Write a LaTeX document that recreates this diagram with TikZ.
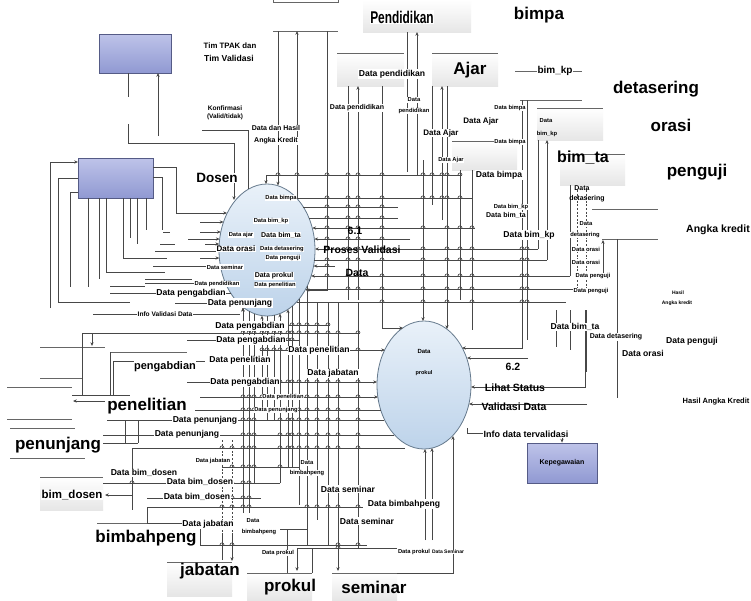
\documentclass[tikz,border=0pt]{standalone}
\usepackage{fontspec}
\setmainfont{Liberation Sans}
\usetikzlibrary{arrows.meta,shapes.geometric}
\definecolor{wire}{HTML}{474747}
\definecolor{entTop}{HTML}{BEC3E9}
\definecolor{entBot}{HTML}{9099D2}
\definecolor{entEdge}{HTML}{555B86}
\definecolor{procTop}{HTML}{E9F1F9}
\definecolor{procBot}{HTML}{BDD3EA}
\definecolor{procEdge}{HTML}{667A8D}
\definecolor{shelfGray}{HTML}{E6E6E6}
% small hop-over bump where a horizontal flow jumps a vertical one
\newcommand\hopmark[2]{\draw[ln] ({#1-2},#2) .. controls ({#1-2},{#2-2.8}) and ({#1+2},{#2-2.8}) .. ({#1+2},#2);}
\begin{document}
\begin{tikzpicture}[x=1pt,y=-1pt,
  ln/.style={draw=wire,line width=0.7pt},
  ar/.style={ln,-{Stealth[length=3.8pt,width=3.2pt]}},
  dsh/.style={ln,dash pattern=on 2pt off 1.6pt},
  rim/.style={draw=black!60,line width=0.9pt},
  shelf/.style={top color=white,bottom color=shelfGray,draw=none},
  tx/.style={inner sep=0.5pt,fill=white,align=center},
  t5/.style={tx,font=\bfseries\fontsize{5}{6}\selectfont},
  sm/.style={tx,font=\bfseries\fontsize{5.8}{6.6}\selectfont},
  s7/.style={tx,font=\bfseries\fontsize{7}{8}\selectfont},
  md/.style={tx,font=\bfseries\fontsize{8.6}{9.4}\selectfont},
  lg/.style={tx,font=\bfseries\fontsize{11}{12}\selectfont},
  bg/.style={tx,font=\bfseries\fontsize{17}{18}\selectfont},
  ttl/.style={inner sep=0pt,font=\bfseries\fontsize{10.5}{12}\selectfont},
  ent/.style={draw=entEdge,line width=0.8pt,top color=entTop,bottom color=entBot,inner sep=0pt},
  proc/.style={ellipse,draw=procEdge,line width=0.8pt,top color=procTop,bottom color=procBot,inner sep=0pt}
]
\useasboundingbox (0,0) rectangle (751,600);
\fill[white] (0,0) rectangle (751,600);

% ---------- data store bodies ----------
\fill[shelf] (363,0) rectangle (471,32);
\fill[shelf] (337,53) rectangle (404,86);
\fill[shelf] (432,53) rectangle (498,86);
\fill[shelf] (537,108) rectangle (603,140);
\fill[shelf] (452,141) rectangle (517,170);
\fill[shelf] (560,154) rectangle (625,185);
\fill[shelf] (40,477) rectangle (103,510);
\fill[shelf] (167,562) rectangle (232,596);
\fill[shelf] (247,573) rectangle (312,600);
\fill[shelf] (332,573) rectangle (397,600);

% ---------- data store rims ----------
\draw[rim] (273,-1) -- (273,2) -- (338,2) -- (338,-1);
\draw[rim] (273,31) -- (338,31);
\draw[rim] (337,53) -- (404,53);
\draw[rim] (432,53) -- (498,53);
\draw[rim] (515,71) -- (582,71);
\draw[rim] (520,100) -- (582,100);
\draw[rim] (537,108) -- (603,108);
\draw[rim] (452,141) -- (517,141);
\draw[rim] (560,154) -- (625,154);
\draw[rim] (592,209) -- (658,209);
\draw[rim] (602,239) -- (658,239);
\draw[rim] (40,347) -- (105,347);
\draw[rim] (110,352) -- (187,352);
\draw[rim] (40,378) -- (82,378);
\draw[rim] (7,387) -- (72,387);
\draw[rim] (7,419) -- (72,419);
\draw[rim] (10,428) -- (75,428);
\draw[rim] (10,458) -- (85,458);
\draw[rim] (40,477) -- (103,477);
\draw[rim] (97,523) -- (160,523);
\draw[rim] (167,562) -- (232,562);
\draw[rim] (247,573) -- (312,573);
\draw[rim] (332,573) -- (397,573);

% ---------- external entities and processes ----------
\node[ent,minimum width=72pt,minimum height=39pt] (tim) at (135,53.5) {};
\node[ent,minimum width=75pt,minimum height=40pt] (dosen) at (115.5,178) {};
\node[ent,minimum width=70pt,minimum height=40pt,font=\bfseries\fontsize{7}{8}\selectfont] (kep) at (562,463) {Kepegawaian};
\node[proc,minimum width=96pt,minimum height=132pt] (p1) at (267,250) {};
\node[proc,minimum width=94pt,minimum height=128pt] (p2) at (424,385) {};

% ---------- Tim TPAK / Dosen links ----------
\draw[ln] (128,73) -- (128,97);
\draw[ln] (128,124) -- (128,143) -- (234,143);
\draw[ar] (234,143) -- (234,200);
\draw[ar] (158,136) -- (158,73);
\draw[ln] (202,130) -- (248,130) -- (248,189);
\draw[ar] (50,308) -- (50,162) -- (78,162);
\draw[ar] (153,167) -- (176,167) -- (176,213) -- (227,213);
\draw[ln] (153,177) -- (162,177) -- (162,230);
\draw[ln] (78,178) -- (58,178) -- (58,302) -- (130,302);
\draw[ln] (78,192) -- (70,192) -- (70,287);
\draw[ln] (88,198) -- (88,287);
\draw[ln] (99,198) -- (99,279);
\draw[ln] (106,198) -- (106,272) -- (165,272);
\draw[ln] (123,198) -- (123,258) -- (167,258);
\draw[ln] (130,198) -- (130,238);
\draw[ln] (137,198) -- (137,244);
\draw[ln] (146,198) -- (146,230);
\draw[ln] (163,232) -- (170,232);
\draw[ln] (160,244) -- (175,244);
\draw[ln] (145,279) -- (192,279);
\draw[ln] (110,286) -- (145,286);
\draw[ln] (93,314) -- (240,314);
\draw[ar] (243,322) -- (243,308);

% flows entering 6.1 from the left
\foreach \yy/\xa in {222/200,232/200,239/188,244/205,258/200} {
  \pgfmathsetmacro\xe{267-48*sqrt(1-((\yy-250)/66)^2)}
  \draw[ar] (\xa,\yy) -- (\xe,\yy);
}
\foreach \yy/\xa in {251/155,266/153,283/145,293/110,303/175} {
  \pgfmathsetmacro\xe{267-48*sqrt(1-((\yy-250)/66)^2)}
  \draw[ln] (\xa,\yy) -- (\xe,\yy);
}

% ---------- flows between 6.1 and the upper stores ----------
\draw[ln] (266,175) -- (462,175);
\draw[ar] (266,175) -- (266,184);
\draw[ar] (278,31) -- (278,185.5);
\draw[ar] (297,198) -- (297,31);
\draw[ar] (327,31) -- (327,290) -- (305.5,290);
\draw[ln] (348,86) -- (348,300);
\draw[ar] (358,300) -- (358,86);
\draw[ar] (382,86) -- (382,328) -- (403,328);
\draw[ln] (407,32) -- (407,172);
\draw[ar] (417,175) -- (417,32);
\draw[ar] (423,160) -- (423,321);
\draw[ln] (432,86) -- (432,205);
\draw[ar] (442,220) -- (442,86);
\draw[ar] (447,86) -- (447,329);
\draw[ln] (460,170) -- (460,300);
\draw[ln] (472,170) -- (472,330);
\draw[ln] (297,198) -- (473,198);
\draw[ar] (522,100) -- (522,348) -- (462,348);
\draw[ln] (527,100) -- (527,340);
\draw[ln] (538,140) -- (538,249);
\draw[ar] (547,260) -- (547,140);
\draw[ln] (570,185) -- (570,276);
\draw[dsh] (577,190) -- (577,292);
\draw[dsh] (586,190) -- (586,292);
\draw[ar] (603,276) -- (603,240);
\draw[ln] (617,239) -- (617,398);
\draw[ln] (556,310) -- (556,347);
\draw[ln] (570,310) -- (570,350);
\draw[ln] (586,310) -- (586,372);

% flows leaving / entering 6.1 on the right
\foreach \yy/\xb in {207/398,218/398,260/547,289/577,302/566} {
  \pgfmathsetmacro\xe{267+48*sqrt(1-((\yy-250)/66)^2)}
  \draw[ln] (\xe,\yy) -- (\xb,\yy);
}
\foreach \yy/\xb in {228/475,239/410,249/538,266/335,276/570} {
  \pgfmathsetmacro\xe{267+48*sqrt(1-((\yy-250)/66)^2)}
  \draw[ar] (\xb,\yy) -- (\xe,\yy);
}

% ---------- 6.2 right side ----------
\draw[ar] (528,358) -- (467,358);
\draw[ar] (585,310) -- (585,387) -- (471,387);
\draw[ar] (587,404) -- (469,404);
\draw[ar] (467,428) -- (467,433) -- (562,433) -- (kep.north);

% ---------- flows below 6.1 ----------
\foreach \xx/\ye in {249/513,254/483,267/420,274/420,292/467,299/505,307/545} {
  \pgfmathsetmacro\yb{250+66*sqrt(1-((\xx-267)/48)^2)}
  \draw[ln] (\xx,\yb) -- (\xx,\ye);
}
\foreach \xx/\ye in {243/513,262/410,280/483,288/467} {
  \pgfmathsetmacro\yb{250+66*sqrt(1-((\xx-267)/48)^2)}
  \draw[ar] (\xx,\ye) -- (\xx,\yb);
}
\draw[ln] (317,302) -- (317,520);
\draw[ln] (328,302) -- (328,545);
\draw[ar] (338,302) -- (338,571);
\draw[ln] (358,302) -- (358,548);

% ---------- lower-left stores and flows ----------
\draw[ln] (82,333) -- (360,333);
\draw[ar] (92,333) -- (92,346);
\draw[ln] (82,333) -- (82,395);
\draw[ln] (110,352) -- (110,395);
\draw[ln] (113,361) -- (205,361);
\draw[ln] (113,361) -- (113,395);
\draw[ln] (72,395) -- (130,395);
\draw[ar] (105,401) -- (73,401);
\draw[ln] (288,325) -- (330,325);
\draw[ln] (187,340) -- (300,340);
\draw[ar] (260,350) -- (385,350);
\draw[ar] (187,382) -- (377,382);
\draw[ar] (200,397) -- (378,397);
\draw[ln] (195,410) -- (381,410);
\draw[ln] (107,420) -- (384,420);
\draw[ln] (103,435) -- (394,435);
\draw[ln] (125,420) -- (125,443);
\draw[ln] (138,420) -- (138,443);
\draw[ln] (103,443) -- (138,443);
\draw[ln] (132,448) -- (405,448);
\draw[ln] (132,448) -- (132,510);
\draw[ln] (222,467) -- (300,467);
\draw[ln] (103,483) -- (280,483);
\draw[ar] (132,495) -- (105,495);
\draw[ln] (147,498) -- (261,498);
\draw[ln] (147,507) -- (363,507);
\draw[ln] (147,507) -- (147,523) -- (185,523);
\draw[dsh] (222,440) -- (222,533);
\draw[ln] (222,533) -- (222,560);
\draw[dsh] (232,440) -- (232,533);
\draw[ar] (232,533) -- (232,561);
\draw[ln] (200,525) -- (200,545) -- (367,545);
\draw[ln] (280,529) -- (308,529);
\draw[ln] (287,530) -- (287,573);
\draw[ln] (297,548) -- (397,548);
\draw[ar] (297,548) -- (297,571);
\draw[ln] (312,548) -- (312,573);
\draw[ar] (397,573) -- (453,573) -- (453,436);
\draw[ar] (425,540) -- (425,449);
\draw[ar] (432,540) -- (432,448);

% ---------- hop-over bumps on crossing flows ----------
\def\gridV{278/31/186,297/31/198,327/31/290,348/86/300,358/86/300,382/86/328,407/31/172,417/31/175,423/160/321,432/86/205,442/86/220,447/86/329,460/170/300,472/170/330,522/100/348,527/100/340,538/140/249,547/140/260,570/185/276}
\def\gridH{175/266/462,198/297/473,207/305/398,218/310/398,228/313/475,239/314/410,249/315/538,260/314/547,266/313/335,276/311/570,289/306/577,302/300/566}
\foreach \xv/\ya/\yb in \gridV {
  \foreach \yh/\xa/\xb in \gridH {
    \pgfmathtruncatemacro\hit{(\xv>\xa+1)&&(\xv<\xb-1)&&(\yh>\ya+1)&&(\yh<\yb-1)}
    \ifnum\hit=1 \hopmark{\xv}{\yh}\fi
  }
}
\def\lowV{243/307/513,249/311/513,254/313/483,262/316/410,267/316/420,274/315/420,280/314/483,288/312/467,292/311/467,299/299/505,307/286/545,317/302/520,328/302/545,338/302/571,358/302/548,222/440/560,232/440/560,132/448/510,147/507/523,200/525/545,82/333/395,110/352/395,113/361/395}
\def\lowH{325/288/330,333/82/360,340/187/300,350/260/385,361/113/205,382/187/377,397/200/377,410/195/381,420/107/384,435/103/394,448/132/405,467/222/300,483/103/280,498/147/261,507/147/363,529/280/308,545/200/367,548/297/397,395/72/130}
\foreach \xv/\ya/\yb in \lowV {
  \foreach \yh/\xa/\xb in \lowH {
    \pgfmathtruncatemacro\hit{(\xv>\xa+1)&&(\xv<\xb-1)&&(\yh>\ya+1)&&(\yh<\yb-1)}
    \ifnum\hit=1 \hopmark{\xv}{\yh}\fi
  }
}

% ---------- process titles ----------
\node[ttl] (t61) at (355,231) {6.1};
\node[ttl] (t61b) at (362,250) {Proses Validasi};
\node[ttl] (t61c) at (357,273) {Data};
\node[ttl] (t62) at (513,367) {6.2};
\node[ttl] (t62b) at (515,388) {Lihat Status};
\node[ttl] (t62c) at (514,407) {Validasi Data};
\node[inner sep=0pt,font=\bfseries\fontsize{6}{7}\selectfont] (p2a) at (424,351) {Data};
\node[inner sep=0pt,font=\bfseries\fontsize{5.5}{7}\selectfont] (p2b) at (424,373) {prokul};

% ---------- top labels ----------
\node[inner sep=0pt,font=\bfseries\fontsize{7.8}{9}\selectfont] (l1) at (230,46) {Tim TPAK dan};
\node[inner sep=0pt,font=\bfseries\fontsize{8.6}{9}\selectfont] (l2) at (229,58) {Tim Validasi};
\node[inner sep=0pt,font=\bfseries\fontsize{6.6}{7}\selectfont] (l3) at (225,108) {Konfirmasi};
\node[inner sep=0pt,font=\bfseries\fontsize{6.4}{7}\selectfont] (l4) at (225,117) {(Valid/tidak)};
\node[s7] (l5) at (276,128) {Data dan Hasil};
\node[s7] (l6) at (276,141) {Angka Kredit};
\node[tx,font=\bfseries\fontsize{13.5}{15}\selectfont] (l7) at (217,178) {Dosen};
\node[bg] (l8) at (402,17) {\scalebox{0.7}[1]{Pendidikan}};
\node[bg] (l9) at (539,15) {bimpa};
\node[md] (l10) at (392,74) {Data pendidikan};
\node[s7] (l11) at (357,108) {Data pendidikan};
\node[sm] (l12) at (414,100) {Data};
\node[sm] (l13) at (414,111) {pendidikan};
\node[bg,fill=none] (l14) at (470,70) {Ajar};
\node[tx,font=\bfseries\fontsize{10}{11}\selectfont] (l15) at (555,71) {bim\_kp};
\node[bg] (l16) at (656,89) {detasering};
\node[sm] (l17) at (510,108) {Data bimpa};
\node[sm,fill=none] (l18) at (546,121) {Data};
\node[sm,fill=none] (l19) at (547,134) {bim\_kp};
\node[tx,font=\bfseries\fontsize{8}{9}\selectfont] (l20) at (481,121) {Data Ajar};
\node[bg] (l21) at (671,125) {orasi};
\node[tx,font=\bfseries\fontsize{8}{9}\selectfont] (l22) at (441,133) {Data Ajar};
\node[sm] (l23) at (510,142) {Data bimpa};
\node[inner sep=0pt,font=\bfseries\fontsize{16}{17}\selectfont] (l24) at (583,158) {bim\_ta};
\node[sm] (l25) at (451,160) {Data Ajar};
\node[md] (l26) at (499,175) {Data bimpa};
\node[bg] (l27) at (697,172) {penguji};
\node[s7,fill=none] (l28) at (582,188) {Data};
\node[s7,fill=none] (l29) at (587,199) {detasering};
\node[sm] (l30) at (511,207) {Data bim\_kp};
\node[s7] (l31) at (506,215) {Data bim\_ta};
\node[md] (l32) at (529,235) {Data bim\_kp};
\node[sm] (l33) at (586,224) {Data};
\node[sm] (l34) at (585,235) {detasering};
\node[tx,font=\bfseries\fontsize{10.5}{12}\selectfont] (l35) at (718,230) {Angka kredit};
\node[sm] (l36) at (586,249) {Data orasi};
\node[sm] (l37) at (586,262) {Data orasi};
\node[sm] (l38) at (593,276) {Data penguji};
\node[sm] (l39) at (591,291) {Data penguji};
\node[t5] (l40) at (678,293) {Hasil};
\node[t5] (l41) at (677,303) {Angka kredit};
\node[md] (l42) at (575,327) {Data bim\_ta};
\node[s7] (l43) at (616,337) {Data detasering};
\node[md] (l44) at (692,341) {Data penguji};
\node[md] (l45) at (643,353) {Data orasi};
\node[tx,font=\bfseries\fontsize{9}{10}\selectfont] (l46) at (526,434) {Info data tervalidasi};
\node[tx,font=\bfseries\fontsize{7.5}{8}\selectfont] (l47) at (716,402) {Hasil Angka Kredit};

% ---------- labels around 6.1 ----------
\node[sm] (e1) at (281,198) {Data bimpa};
\node[sm] (e2) at (271,221) {Data bim\_kp};
\node[sm] (e3) at (241,235) {Data ajar};
\node[s7] (e4) at (281,235) {Data bim\_ta};
\node[tx,font=\bfseries\fontsize{8}{9}\selectfont] (e5) at (236,249) {Data orasi};
\node[sm] (e6) at (282,249) {Data detasering};
\node[sm] (e7) at (283,258) {Data penguji};
\node[sm] (e8) at (225,267) {Data seminar};
\node[s7] (e9) at (274,276) {Data prokul};
\node[sm] (e10) at (275,285) {Data penelitian};
\node[sm] (e11) at (217,284) {Data pendidikan};
\node[md] (e12) at (191,293) {Data pengabdian};
\node[md] (e13) at (240,303) {Data penunjang};
\node[tx,font=\bfseries\fontsize{6.6}{7}\selectfont] (e14) at (165,314) {Info Validasi Data};

% ---------- lower labels ----------
\node[md] (b1) at (250,326) {Data pengabdian};
\node[md] (b2) at (251,340) {Data pengabdian};
\node[md] (b3) at (240,360) {Data penelitian};
\node[md] (b4) at (319,350) {Data penelitian};
\node[lg] (b5) at (165,367) {pengabdian};
\node[md] (b6) at (333,373) {Data jabatan};
\node[md] (b7) at (245,382) {Data pengabdian};
\node[sm] (b8) at (283,397) {Data penelitian};
\node[sm] (b9) at (276,410) {Data penunjang};
\node[bg] (b10) at (147,406) {penelitian};
\node[md] (b11) at (205,420) {Data penunjang};
\node[md] (b12) at (187,434) {Data penunjang};
\node[bg] (b13) at (58,445) {penunjang};
\node[sm] (b14) at (213,461) {Data jabatan};
\node[sm] (b15) at (307,463) {Data};
\node[sm] (b16) at (307,473) {bimbahpeng};
\node[md] (b17) at (144,473) {Data bim\_dosen};
\node[md] (b18) at (200,482) {Data bim\_dosen};
\node[tx,font=\bfseries\fontsize{11.5}{12}\selectfont] (b19) at (72,495) {bim\_dosen};
\node[md] (b20) at (197,497) {Data bim\_dosen};
\node[md] (b21) at (348,489) {Data seminar};
\node[md] (b22) at (404,504) {Data bimbahpeng};
\node[md] (b23) at (367,521) {Data seminar};
\node[md] (b24) at (208,524) {Data jabatan};
\node[sm] (b25) at (253,521) {Data};
\node[sm] (b26) at (259,532) {bimbahpeng};
\node[bg] (b27) at (146,538) {bimbahpeng};
\node[sm] (b28) at (278,553) {Data prokul};
\node[sm] (b29) at (414,552) {Data prokul};
\node[t5] (b30) at (448,552) {Data Seminar};
\node[bg,fill=none] (b31) at (210,571) {jabatan};
\node[bg,fill=none] (b32) at (290,587) {prokul};
\node[bg,fill=none] (b33) at (374,587) {seminar};
\end{tikzpicture}
\end{document}
